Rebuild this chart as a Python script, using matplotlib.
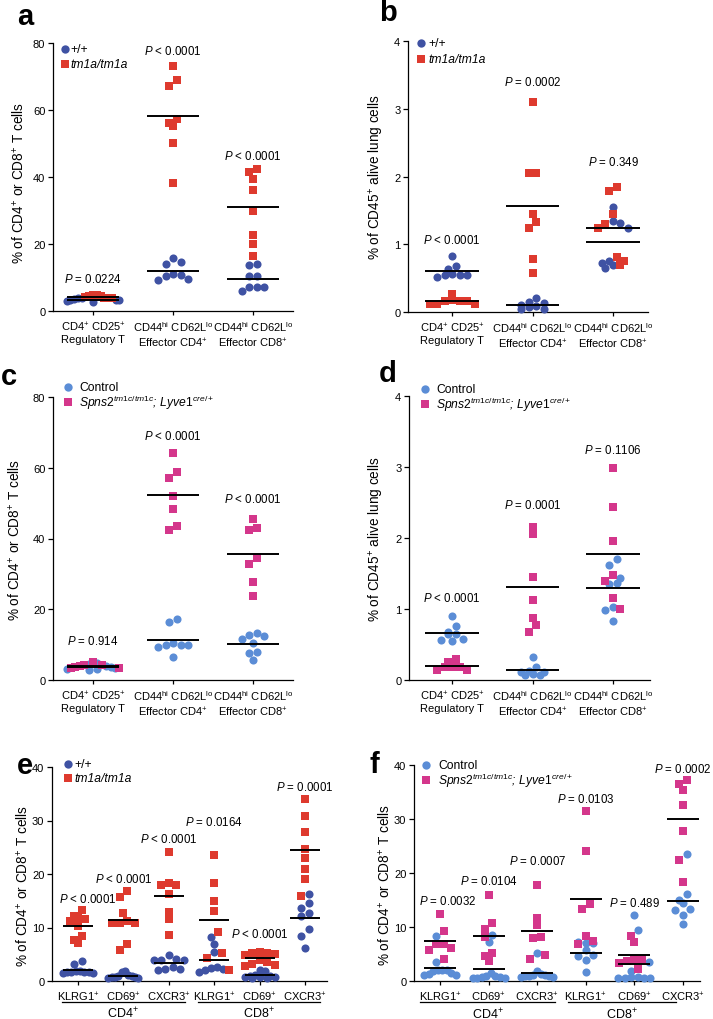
import numpy as np
import matplotlib
matplotlib.use("Agg")
import matplotlib.pyplot as plt
import matplotlib.transforms as mtransforms
from matplotlib.lines import Line2D

plt.rcParams['font.family'] = ['Liberation Sans', 'DejaVu Sans']
plt.rcParams['mathtext.fontset'] = 'custom'
plt.rcParams['mathtext.rm'] = 'Liberation Sans'
plt.rcParams['mathtext.it'] = 'Liberation Sans:italic'
plt.rcParams['mathtext.bf'] = 'Liberation Sans:bold'

# ---- data ----
top_cats = ["CD4$^{+}$ CD25$^{+}$\nRegulatory T",
            "CD44$^{\\rm hi}$ CD62L$^{\\rm lo}$\nEffector CD4$^{+}$",
            "CD44$^{\\rm hi}$ CD62L$^{\\rm lo}$\nEffector CD8$^{+}$"]
bottom_cats = ["KLRG1$^{+}$", "CD69$^{+}$", "CXCR3$^{+}$", "KLRG1$^{+}$", "CD69$^{+}$", "CXCR3$^{+}$"]

# panel a: % of CD4+ or CD8+ T cells, +/+ vs tm1a/tm1a
a_wt = [[3.8, 3.6, 3.4, 3.2, 3.0, 2.8, 3.3, 3.9],
        [15.7, 14.5, 13.9, 11.1, 10.8, 10.3, 9.5, 9.2],
        [13.9, 13.6, 10.4, 10.3, 7.2, 7.2, 7.1, 6.0]]
a_mut = [[4.4, 4.7, 4.9, 4.5, 4.0, 3.9, 3.8, 4.2],
         [73.0, 69.0, 67.1, 57.4, 56.2, 55.1, 50.1, 38.2],
         [42.5, 41.5, 39.5, 36.0, 30.0, 22.6, 20.1, 16.3]]
a_p = ["$P$ = 0.0224", "$P$ < 0.0001", "$P$ < 0.0001"]
a_py = [9.6, 77.9, 46.3]

# panel b: % of CD45+ alive lung cells
b_wt = [[0.82, 0.68, 0.64, 0.56, 0.55, 0.54, 0.54, 0.51],
        [0.20, 0.15, 0.13, 0.11, 0.09, 0.08, 0.05, 0.05],
        [1.555, 1.34, 1.32, 1.245, 0.76, 0.72, 0.70, 0.655]]
b_mut = [[0.27, 0.17, 0.16, 0.16, 0.16, 0.12, 0.12, 0.12],
         [3.10, 2.05, 2.05, 1.44, 1.33, 1.245, 0.78, 0.58],
         [1.85, 1.78, 1.44, 1.30, 1.245, 0.81, 0.76, 0.70]]
b_p = ["$P$ < 0.0001", "$P$ = 0.0002", "$P$ = 0.349"]
b_py = [1.07, 3.40, 2.22]

# panel c: Control vs Spns2 cKO
c_wt = [[4.5, 4.8, 4.0, 3.6, 3.2, 2.8, 3.0, 3.5],
        [17.3, 16.4, 10.5, 10.0, 10.0, 10.0, 9.4, 6.6],
        [13.3, 12.6, 12.3, 11.5, 10.5, 8.0, 7.7, 5.7]]
c_mut = [[5.0, 4.3, 4.0, 3.5, 3.3, 3.6, 4.2],
         [64.2, 58.7, 57.0, 52.0, 48.4, 43.4, 42.5],
         [45.5, 42.9, 42.3, 34.6, 32.8, 27.8, 23.8]]
c_p = ["$P$ = 0.914", "$P$ < 0.0001", "$P$ < 0.0001"]
c_py = [11.1, 69.2, 51.3]

# panel d
d_wt = [[0.90, 0.76, 0.67, 0.645, 0.645, 0.58, 0.56, 0.545],
        [0.32, 0.19, 0.12, 0.11, 0.11, 0.09, 0.07, 0.07],
        [1.70, 1.62, 1.44, 1.36, 1.35, 1.03, 0.98, 0.83]]
d_mut = [[0.29, 0.25, 0.19, 0.19, 0.18, 0.14, 0.14],
         [2.16, 2.06, 1.45, 1.13, 0.87, 0.77, 0.68],
         [2.99, 2.43, 1.96, 1.48, 1.39, 1.16, 1.00]]
d_p = ["$P$ < 0.0001", "$P$ = 0.0001", "$P$ = 0.1106"]
d_py = [1.155, 2.47, 3.25]

# panel e
e_wt = [[3.7, 3.2, 1.9, 1.8, 1.7, 1.7, 1.6, 1.6, 1.5, 1.5],
        [1.8, 1.6, 1.2, 1.0, 0.9, 0.8, 0.8, 0.7, 0.6, 0.6],
        [4.9, 4.2, 4.0, 4.0, 4.0, 2.7, 2.2, 2.2, 2.1],
        [8.2, 7.0, 5.4, 2.6, 2.4, 2.2, 2.1, 1.7],
        [2.0, 1.9, 1.2, 1.0, 0.9, 0.8, 0.8, 0.7, 0.6, 0.6],
        [16.3, 14.5, 13.7, 12.8, 12.1, 9.7, 8.5, 6.2]]
e_mut = [[13.2, 12.2, 11.7, 11.5, 11.2, 10.3, 8.4, 7.6, 7.1],
         [16.9, 15.7, 12.8, 11.3, 10.9, 10.8, 10.8, 6.9, 5.8],
         [24.1, 18.3, 18.0, 18.0, 16.3, 12.9, 11.6, 8.6],
         [23.5, 18.4, 15.0, 13.1, 9.2, 5.3, 4.3, 2.0],
         [5.4, 5.3, 5.2, 5.1, 4.9, 3.9, 3.5, 3.2, 3.0, 2.8],
         [34.0, 30.8, 27.9, 24.7, 22.9, 21.0, 19.1, 15.9]]
e_p = ["$P$ < 0.0001", "$P$ < 0.0001", "$P$ < 0.0001", "$P$ = 0.0164", "$P$ < 0.0001", "$P$ = 0.0001"]
e_py = [15.5, 19.1, 26.7, 29.8, 8.9, 36.4]

# panel f
f_wt = [[8.3, 3.6, 2.1, 2.0, 2.0, 1.9, 1.4, 1.3, 1.2, 1.2],
        [8.6, 7.2, 1.5, 1.0, 0.9, 0.8, 0.7, 0.6, 0.5, 0.5],
        [5.2, 1.8, 1.3, 1.2, 1.1, 1.0, 1.0, 0.9, 0.8, 0.8],
        [7.2, 7.1, 7.0, 5.7, 4.8, 4.7, 3.8, 1.7],
        [12.2, 9.4, 3.5, 1.9, 0.8, 0.7, 0.6, 0.6, 0.5, 0.5],
        [23.6, 16.1, 15.0, 14.4, 13.3, 13.2, 12.3, 10.5]]
f_mut = [[12.4, 9.2, 6.9, 6.9, 6.1, 5.7, 4.1],
         [16.0, 10.8, 9.7, 8.2, 5.2, 4.7, 3.7],
         [17.8, 11.7, 10.3, 8.2, 7.9, 4.9, 4.1],
         [31.5, 24.1, 14.2, 13.4, 8.4, 7.5, 6.9],
         [8.3, 7.3, 4.1, 4.1, 3.7, 3.3, 2.3],
         [37.2, 36.5, 35.3, 32.6, 27.7, 22.5, 18.4]]
f_p = ["$P$ = 0.0032", "$P$ = 0.0104", "$P$ = 0.0007", "$P$ = 0.0103", "$P$ = 0.489", "$P$ = 0.0002"]
f_py = [14.9, 18.6, 22.3, 33.8, 14.6, 39.4]

BLUE = '#3f52a3'
RED = '#de3a2e'
LBLUE = '#5b8dd6'
PINK = '#d4368b'

W, H = 713, 1020
fig = plt.figure(figsize=(W / 100, H / 100), dpi=100)


def box(l, t, r, b):
    return [l / W, 1 - b / H, (r - l) / W, (b - t) / H]


def swarm(ax, x0, vals, d_px=7.5, maxw_px=25):
    # GraphPad-like: points of similar height go in one centred row
    T = ax.transData
    ppu = T.transform((1, 0))[0] - T.transform((0, 0))[0]
    ys = T.transform(np.column_stack([np.full(len(vals), x0), vals]))[:, 1]
    order = np.argsort(-np.asarray(vals), kind='stable')
    rows = []
    for i in order:
        if rows and abs(ys[rows[-1][0]] - ys[i]) < d_px * 0.9:
            rows[-1].append(i)
        else:
            rows.append([i])
    offs = np.zeros(len(vals))
    for r in rows:
        n = len(r)
        sp = d_px
        if (n - 1) / 2 * sp > maxw_px:
            sp = 2 * maxw_px / (n - 1)
        # fill slots from the centre outwards, alternating sides
        slots = sorted(range(n), key=lambda j: (abs(j - (n - 1) / 2), -j))
        for i, j in zip(r, slots):
            offs[i] = (j - (n - 1) / 2) * sp
    return offs / ppu


def dot_panel(ax, wt, mut, cw, cm, ptxt, py, ymax, yticks, cats, xlim, pdx=None, hw=0.33):
    ax.set_xlim(*xlim)
    ax.set_ylim(0, ymax)
    T = ax.transData
    spacing = T.transform((1, 0))[0] - T.transform((0, 0))[0]
    for i in range(len(cats)):
        vals = list(wt[i]) + list(mut[i])
        offs = swarm(ax, i, vals, maxw_px=0.33 * spacing)
        n = len(wt[i])
        ax.scatter(i + offs[:n], wt[i], s=34, marker='o', color=cw, linewidths=0, zorder=3, clip_on=False)
        ax.scatter(i + offs[n:], mut[i], s=30, marker='s', color=cm, linewidths=0, zorder=3, clip_on=False)
        for g in (wt[i], mut[i]):
            m = np.mean(g)
            ax.plot([i - hw, i + hw], [m, m], color='black', lw=1.4, zorder=4, solid_capstyle='butt')
        dx = pdx[i] if pdx else 0
        ax.text(i + dx, py[i], ptxt[i], ha='center', va='center', fontsize=8.3)
    ax.set_yticks(yticks)
    ax.set_xticks(range(len(cats)))
    ax.set_xticklabels(cats, fontsize=8, linespacing=1.2)
    for s in ('top', 'right'):
        ax.spines[s].set_visible(False)
    for s in ('left', 'bottom'):
        ax.spines[s].set_linewidth(0.9)
    ax.tick_params(axis='y', length=3.5, width=0.9, labelsize=8, pad=2)
    ax.tick_params(axis='x', length=3, width=0.9, pad=3)


def legend(xm, y1, y2, xt, labels, cw, cm):
    fig.add_artist(Line2D([xm / W], [1 - y1 / H], marker='o', ms=6, color=cw, mew=0, transform=fig.transFigure))
    fig.add_artist(Line2D([xm / W], [1 - y2 / H], marker='s', ms=5.3, color=cm, mew=0, transform=fig.transFigure))
    fig.text(xt / W, 1 - y1 / H, labels[0], fontsize=8.7, va='center', ha='left')
    fig.text(xt / W, 1 - y2 / H, labels[1], fontsize=8.7, va='center', ha='left', style='italic')


ylab_top = "% of CD4$^{+}$ or CD8$^{+}$ T cells"
ylab_lung = "% of CD45$^{+}$ alive lung cells"
spns = "$\\mathit{Spns2}^{\\mathit{tm1c/tm1c}}$; $\\mathit{Lyve1}^{\\mathit{cre/+}}$"

# a
ax = fig.add_axes(box(53, 44, 293, 312))
dot_panel(ax, a_wt, a_mut, BLUE, RED, a_p, a_py, 80, [0, 20, 40, 60, 80], top_cats, (-0.5, 2.5))
ax.set_ylabel(ylab_top, fontsize=9.8)
ax.yaxis.set_label_coords(-0.112, 0.48)
legend(65, 50, 65, 70, ["+/+", "tm1a/tm1a"], BLUE, RED)

# b
ax = fig.add_axes(box(408, 42, 648, 313))
dot_panel(ax, b_wt, b_mut, BLUE, RED, b_p, b_py, 4, [0, 1, 2, 3, 4], top_cats, (-0.547, 2.435))
ax.set_ylabel(ylab_lung, fontsize=9.8)
ax.yaxis.set_label_coords(-0.092, 0.5)
legend(421, 44, 60, 428, ["+/+", "tm1a/tm1a"], BLUE, RED)

# c
ax = fig.add_axes(box(53, 398, 293, 681))
dot_panel(ax, c_wt, c_mut, LBLUE, PINK, c_p, c_py, 80, [0, 20, 40, 60, 80], top_cats, (-0.5, 2.5))
ax.set_ylabel(ylab_top, fontsize=9.8)
ax.yaxis.set_label_coords(-0.125, 0.5)
legend(68, 388, 403, 79, ["Control", spns], LBLUE, PINK)

# d
ax = fig.add_axes(box(409, 397, 650, 681))
dot_panel(ax, d_wt, d_mut, LBLUE, PINK, d_p, d_py, 4, [0, 1, 2, 3, 4], top_cats, (-0.535, 2.46))
ax.set_ylabel(ylab_lung, fontsize=9.8)
ax.yaxis.set_label_coords(-0.095, 0.5)
legend(425, 390, 405, 436, ["Control", spns], LBLUE, PINK)


def groups(ax, spans, ly=-0.098, ty=-0.15):
    tr = mtransforms.blended_transform_factory(ax.transData, ax.transAxes)
    for (x0, x1), lab in zip(spans, ["CD4$^{+}$", "CD8$^{+}$"]):
        ax.plot([x0, x1], [ly, ly], color='black', lw=0.9, transform=tr, clip_on=False)
        ax.text((x0 + x1) / 2, ty, lab, transform=tr, ha='center', va='center', fontsize=9)


# e
ax = fig.add_axes(box(52, 768, 327, 982))
dot_panel(ax, e_wt, e_mut, BLUE, RED, e_p, e_py, 40, [0, 10, 20, 30, 40], bottom_cats, (-0.57, 5.48),
          pdx=[0.22, 0, 0, 0, 0, 0])
ax.set_ylabel(ylab_top, fontsize=9.8)
ax.yaxis.set_label_coords(-0.076, 0.45)
groups(ax, [(-0.35, 2.35), (2.64, 5.32)])
legend(68, 765, 779, 74, ["+/+", "tm1a/tm1a"], BLUE, RED)

# f
ax = fig.add_axes(box(414, 766, 700, 982))
dot_panel(ax, f_wt, f_mut, LBLUE, PINK, f_p, f_py, 40, [0, 10, 20, 30, 40], bottom_cats, (-0.535, 5.35),
          pdx=[0.16, 0, 0, 0, 0, 0])
ax.set_ylabel(ylab_top, fontsize=9.8)
ax.yaxis.set_label_coords(-0.076, 0.45)
groups(ax, [(-0.41, 2.37), (2.63, 4.85)])
legend(426, 766, 781, 438, ["Control", spns], LBLUE, PINK)

for lab, x, y in [("a", 25, 17), ("b", 388, 13), ("c", 9, 377), ("d", 388, 374), ("e", 25, 766), ("f", 374, 765)]:
    fig.text(x / W, 1 - y / H, lab, fontsize=21, fontweight='bold', ha='center', va='center')

fig.savefig("out.png", dpi=100)
